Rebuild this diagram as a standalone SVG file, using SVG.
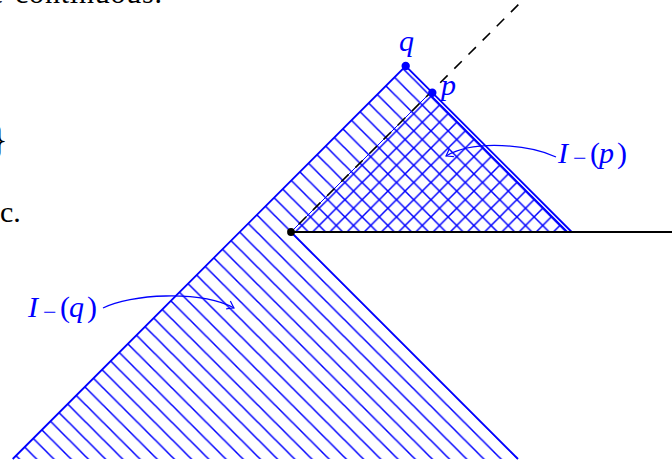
<svg xmlns="http://www.w3.org/2000/svg" width="672" height="466" viewBox="0 0 672 466">
<defs>
  <pattern id="hatchNW" patternUnits="userSpaceOnUse" x="0" y="9.6" width="17.2" height="17.2">
    <path d="M-2,-2 L19.2,19.2 M-2,15.2 L2,19.2 M15.2,-2 L19.2,2" stroke="#0000ff" stroke-width="1.5" fill="none"/>
  </pattern>
  <pattern id="hatchNE" patternUnits="userSpaceOnUse" x="0" y="11.4" width="17.2" height="17.2">
    <path d="M-2,19.2 L19.2,-2 M-2,2 L2,-2 M15.2,19.2 L19.2,15.2" stroke="#0000ff" stroke-width="1.5" fill="none"/>
  </pattern>
  <marker id="arr" viewBox="-8 -6 10 12" refX="0" refY="0" markerWidth="10" markerHeight="12" orient="auto" markerUnits="userSpaceOnUse">
    <path d="M-6.5,-4.5 Q-2,-1.2 0,0 Q-2,1.2 -6.5,4.5" fill="none" stroke="#0000ff" stroke-width="1.2"/>
  </marker>
</defs>
<style>
  .edge{fill:none;stroke:#0000ff;stroke-width:1.8}
  .conn{fill:none;stroke:#0000ff;stroke-width:1.3}
  .bdot{fill:#0000ff}
</style>

<g id="page-text" font-family="'Liberation Serif', serif" fill="#000000">
  <text x="-10" y="3" font-size="30">e</text>
  <text x="15" y="3" font-size="30" textLength="147" lengthAdjust="spacing">continuous.</text>
  <text x="-11" y="153" font-size="40">}</text>
  <text x="0" y="222" font-size="30">c.</text>
</g>

<g id="region-Iq">
  <polygon points="405.7,66 571.7,232 291,232 518,459 12.7,459" fill="url(#hatchNW)"/>
  <path class="edge" d="M12.7,459 L405.7,66 L571.7,232"/>
  <path class="edge" d="M291,232 L518,459"/>
</g>

<g id="region-Ip">
  <polygon points="429.1,93.9 567.2,232 291,232" fill="url(#hatchNE)"/>
  <path class="edge" d="M429.1,93.9 L567.2,232"/>
  <path d="M291,232 L429.1,93.9" fill="none" stroke="#0000ff" stroke-width="1"/>
</g>

<g id="dashed-line">
  <path d="M291,232 L532,-9" fill="none" stroke="#000" stroke-width="1.6" stroke-dasharray="10.5 9.5" stroke-dashoffset="9"/>
</g>

<g id="cut-line">
  <path d="M291,232 L672,232" fill="none" stroke="#000" stroke-width="2"/>
</g>

<g id="origin-point">
  <circle cx="291" cy="232" r="3.9" fill="#000"/>
</g>

<g id="point-q">
  <circle class="bdot" cx="405.7" cy="66" r="4.2"/>
  <text x="399" y="51" font-size="30" font-style="italic" font-family="'Liberation Serif', serif" fill="#0000ff">q</text>
</g>

<g id="point-p">
  <circle class="bdot" cx="432.3" cy="92.7" r="4.2"/>
  <text x="441" y="95" font-size="30" font-style="italic" font-family="'Liberation Serif', serif" fill="#0000ff">p</text>
</g>

<g id="label-Ip" font-family="'Liberation Serif', serif" fill="#0000ff">
  <text y="163" font-size="30"><tspan font-style="italic" x="558">I</tspan><tspan x="573" y="166" font-size="24">−</tspan><tspan x="590" y="163">(</tspan><tspan font-style="italic" x="599">p</tspan><tspan x="617">)</tspan></text>
</g>

<g id="label-Iq" font-family="'Liberation Serif', serif" fill="#0000ff">
  <text y="317" font-size="30"><tspan font-style="italic" x="28">I</tspan><tspan x="43" y="320" font-size="24">−</tspan><tspan x="60" y="317">(</tspan><tspan font-style="italic" x="69">q</tspan><tspan x="87">)</tspan></text>
</g>

<g id="connectors">
  <path class="conn" d="M556,157 C530,145 475,139 446,156" marker-end="url(#arr)"/>
  <path class="conn" d="M103,308 C130,294 200,290 234,308" marker-end="url(#arr)"/>
</g>
</svg>
